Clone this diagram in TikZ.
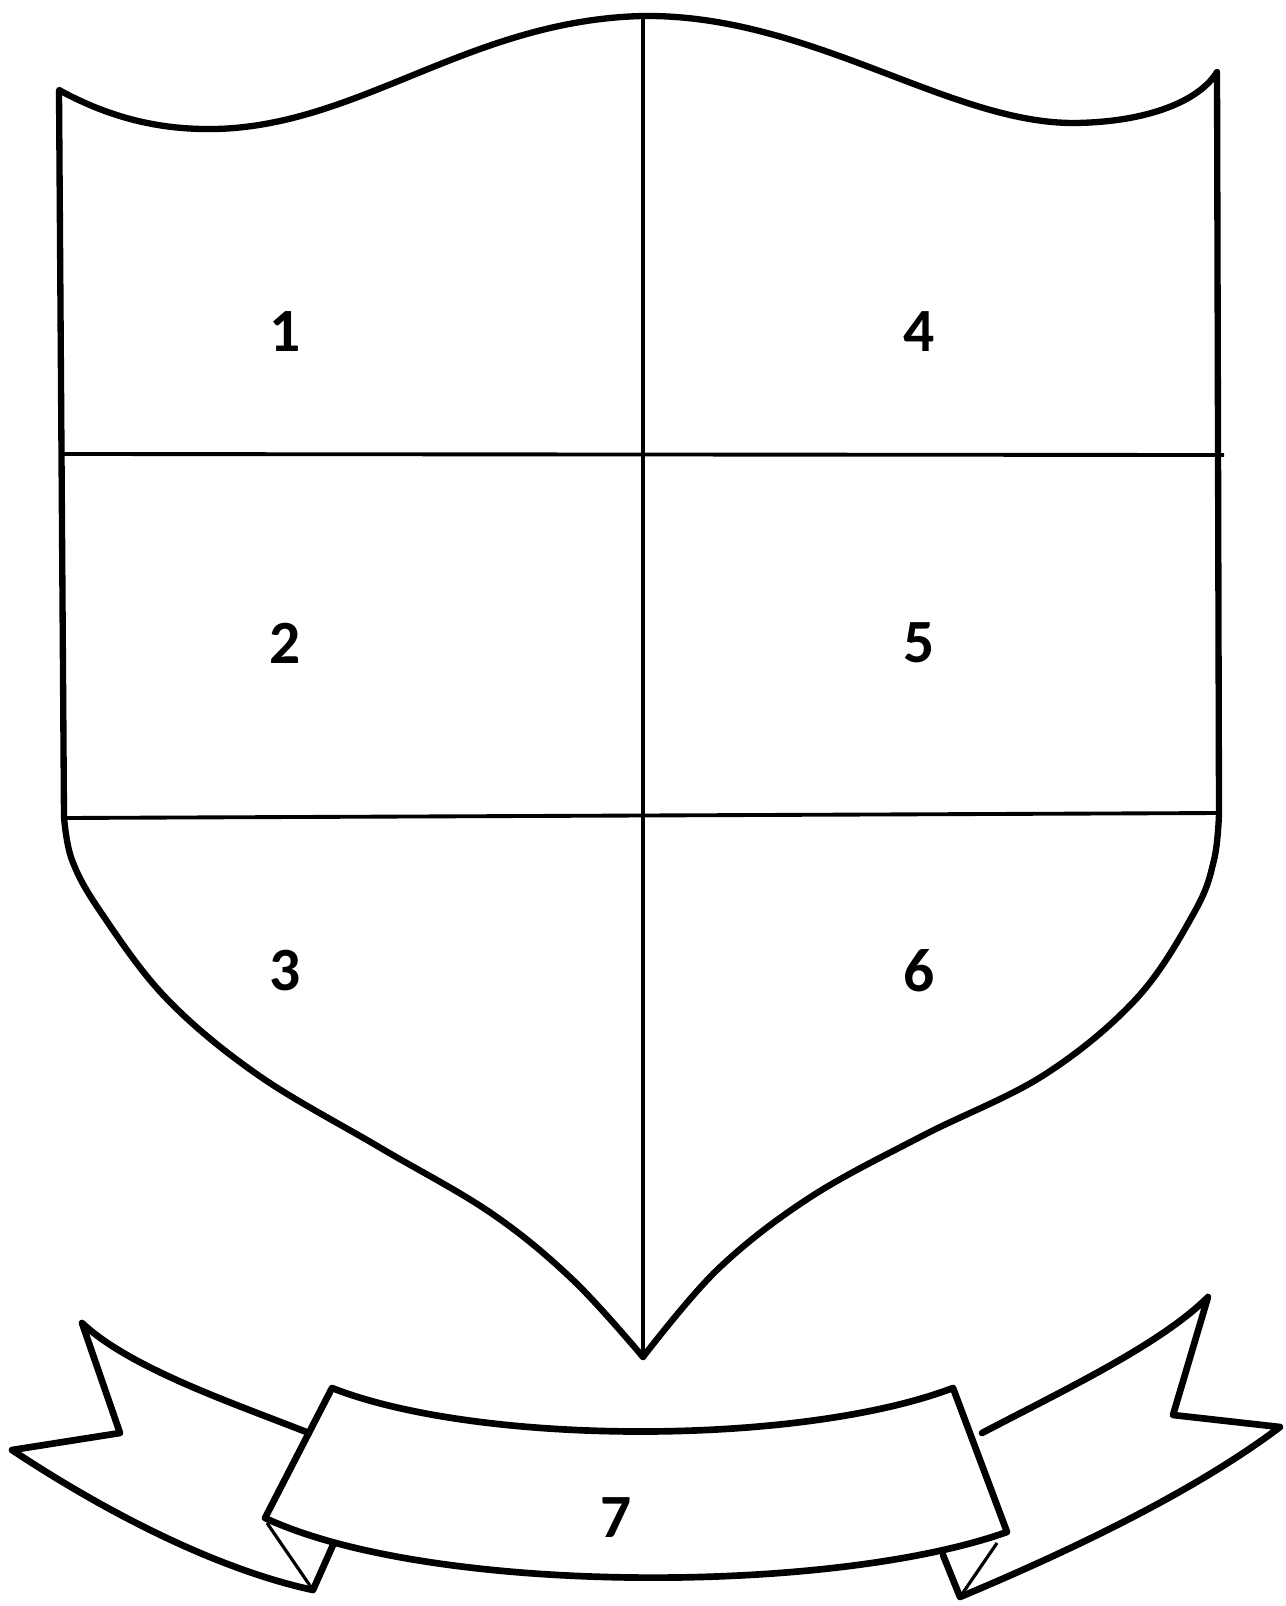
\documentclass[tikz,border=0pt]{standalone}
\usepackage{fontspec}
\setmainfont{Carlito}
\begin{document}
\begin{tikzpicture}[x=0.02cm,y=-0.02cm,
  outline/.style={line width=3.6pt,line join=round,line cap=round},
  divider/.style={line width=2.2pt},
  ribbon/.style={line width=3.8pt,line join=round,line cap=round},
  fold/.style={line width=1.8pt},
  num/.style={font=\fontsize{35}{35}\selectfont\bfseries,inner sep=0pt}]
\useasboundingbox (0,0) rectangle (1285,1606);
% shield outline
\draw[outline] (64,817) -- (59,90)
  .. controls (110,118) and (160,130) .. (215,129)
  .. controls (360,126) and (470,20) .. (643,16)
  .. controls (810,14) and (950,124) .. (1075,123)
  .. controls (1150,122) and (1200,100) .. (1217,72)
  -- (1219,814);
\draw[outline] plot[smooth,tension=0.6] coordinates {(64,817) (72,860) (100,911) (166,998) (258,1075) (379,1147) (491,1213) (573,1280) (643,1357)};
\draw[outline] plot[smooth,tension=0.6] coordinates {(1219,814) (1214,860) (1195,911) (1137,998) (1044,1075) (922,1136) (809,1198) (717,1270) (643,1357)};
% dividers
\draw[line width=2.6pt] (643,16) -- (643,1357);
\draw[divider] (62,454) -- (1224,455);
\draw[divider] (64,818) -- (1219,813);
% labels
\node[num] (n1) at (285,332) {1};
\node[num] (n2) at (285,643) {2};
\node[num] (n3) at (285,971) {3};
\node[num] (n4) at (919,332) {4};
\node[num] (n5) at (919,643) {5};
\node[num] (n6) at (919,971) {6};
% banner centre
\draw[ribbon] (332,1388) .. controls (480,1446) and (800,1446) .. (953,1388)
  -- (1007,1532) .. controls (830,1595) and (430,1595) .. (265,1518) -- cycle;
% left tail
\draw[ribbon] (309,1433) .. controls (230,1402) and (130,1368) .. (82,1323)
  -- (120,1433) -- (12,1450)
  .. controls (110,1515) and (220,1570) .. (313,1590) -- (333,1545);
\draw[fold] (267,1523) -- (313,1590);
% right tail
\draw[ribbon] (982,1433) .. controls (1060,1392) and (1160,1345) .. (1208,1297)
  -- (1173,1415) -- (1280,1427)
  .. controls (1190,1495) and (1060,1555) .. (960,1597) -- (943,1555);
\draw[fold] (960,1597) -- (997,1543);
\node[num] (n7) at (616,1518) {7};
\end{tikzpicture}
\end{document}
